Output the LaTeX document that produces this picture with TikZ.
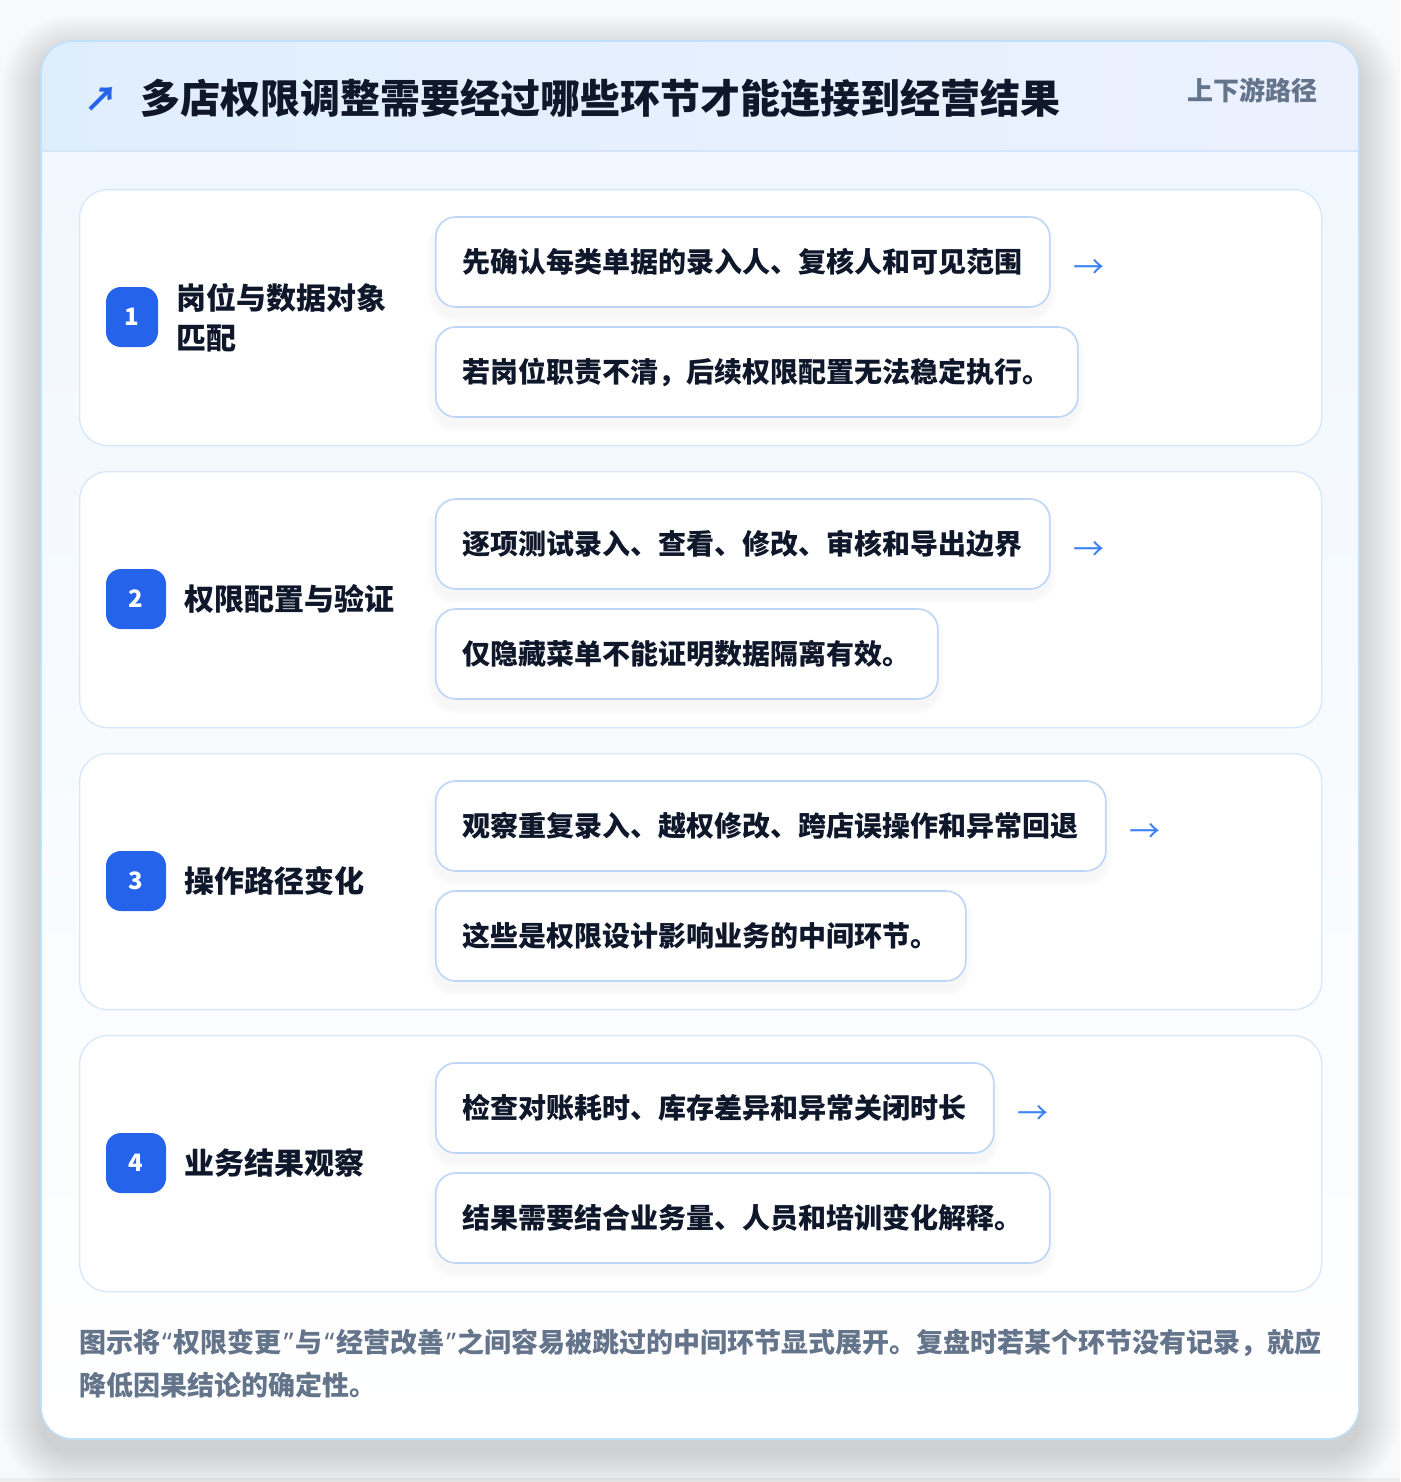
\documentclass[tikz,border=0pt]{standalone}
\usepackage{fontspec}
\setmainfont{Noto Sans CJK SC}
\newfontfamily\latinq{Noto Sans}
\usetikzlibrary{calc}
\definecolor{ink}{HTML}{0F172A}
\definecolor{muted}{HTML}{64748B}
\definecolor{brand}{HTML}{2563EB}
\definecolor{arrowc}{HTML}{3B82F6}
\definecolor{outerb}{HTML}{BFE0FA}
\definecolor{cardb}{HTML}{D6E7FB}
\definecolor{boxb}{HTML}{BCD6F7}
\definecolor{hdrL}{HTML}{DFEEFD}
\definecolor{hdrR}{HTML}{ECF1FE}
\definecolor{hdrline}{HTML}{D5E6FA}
\definecolor{bodyT}{HTML}{F1F7FE}
\definecolor{pagebg}{HTML}{F8F9FA}
\definecolor{shadowc}{HTML}{1E293B}
\newcommand\mysoftshadow[6]{%
  \foreach \k in {1,...,#6}{%
    \fill[shadowc, opacity=0.005, rounded corners=#5+\k] (#1-\k,#2-\k+6) rectangle (#3+\k,#4+\k+8);
  }%
}
\newcommand\myopenq{{\latinq\hspace{2pt}“\hspace{2pt}}}
\newcommand\mycloseq{{\latinq\hspace{2pt}”\hspace{2pt}}}
\begin{document}
\begin{tikzpicture}[x=1pt,y=-1pt,
  card/.style={draw=cardb, line width=1.3pt, fill=white, rounded corners=28pt, anchor=north west,
    minimum width=1242, minimum height=256, inner sep=0},
  subbox/.style={draw=boxb, line width=1.6pt, fill=white, rounded corners=20pt, anchor=west,
    minimum height=90, inner xsep=27pt, inner ysep=0, text=ink, font=\bfseries\fontsize{28}{34}\selectfont},
  badge/.style={fill=brand, rounded corners=15pt, text=white, font=\bfseries\fontsize{24}{26}\selectfont,
    minimum height=60, inner sep=0},
  steptitle/.style={anchor=west, text=ink, font=\bfseries\fontsize{30}{40}\selectfont, inner sep=0, align=left},
  flowarrow/.style={text=arrowc, font=\fontsize{31}{31}\selectfont, inner sep=0},
  foottext/.style={anchor=west, text=muted, font=\bfseries\fontsize{27}{32}\selectfont, inner sep=0},
]
% page
\fill[pagebg] (0,0) rectangle (1400,1482);
\fill[black!7] (0,1478) rectangle (1400,1482);
\useasboundingbox (0,0) rectangle (1400,1482);
% outer card shadow
\foreach \k in {1,...,40}{
  \fill[shadowc, opacity=0.0026, rounded corners=32+\k] (41-\k,41-\k+14) rectangle (1359+\k,1439+\k+14);
}
\fill[white, rounded corners=32] (41,41) rectangle (1359,1439);
\begin{scope}
  \clip[rounded corners=32] (41,41) rectangle (1359,1439);
  \shade[top color=bodyT, bottom color=white] (41,151) rectangle (1359,1439);
  \shade[left color=hdrL, right color=hdrR] (41,41) rectangle (1359,151);
  \draw[hdrline, line width=1.2pt] (41,151) -- (1359,151);
\end{scope}
\draw[outerb, line width=1.6pt, rounded corners=32] (41,41) rectangle (1359,1439);
% header
\node[text=brand, font=\bfseries\fontsize{34}{34}\selectfont, inner sep=0] (ticon) at (101,99) {↗};
\node[anchor=west, text=ink, font=\bfseries\fontsize{40}{48}\selectfont, inner sep=0] (title) at (140,98)
  {多店权限调整需要经过哪些环节才能连接到经营结果};
\node[anchor=east, text=muted, font=\bfseries\fontsize{26}{30}\selectfont, inner sep=0] (tag) at (1318,90) {上下游路径};
% step cards
\node[card] (card1) at (79,189) {};
\node[card] (card2) at (79,471) {};
\node[card] (card3) at (79,753) {};
\node[card] (card4) at (79,1035) {};
% badges
\node[badge, minimum width=52] (badge1) at (132,317) {1};
\node[badge, minimum width=60] (badge2) at (136,599) {2};
\node[badge, minimum width=60] (badge3) at (136,881) {3};
\node[badge, minimum width=60] (badge4) at (136,1163) {4};
% titles
\node[steptitle] (title1) at (176,318) {岗位与数据对象\\匹配};
\node[steptitle] (title2) at (184,599) {权限配置与验证};
\node[steptitle] (title3) at (184,881) {操作路径变化};
\node[steptitle] (title4) at (184,1163) {业务结果观察};
% sub boxes shadows
\mysoftshadow{435}{217}{1049}{307}{20}{8}
\mysoftshadow{435}{327}{1077}{417}{20}{8}
\mysoftshadow{435}{499}{1049}{589}{20}{8}
\mysoftshadow{435}{609}{937}{699}{20}{8}
\mysoftshadow{435}{781}{1105}{871}{20}{8}
\mysoftshadow{435}{891}{965}{981}{20}{8}
\mysoftshadow{435}{1063}{993}{1153}{20}{8}
\mysoftshadow{435}{1173}{1049}{1263}{20}{8}
% sub boxes
\node[subbox] (s11) at (435,262) {先确认每类单据的录入人、复核人和可见范围};
\node[subbox] (s12) at (435,372) {若岗位职责不清，后续权限配置无法稳定执行。};
\node[subbox] (s21) at (435,544) {逐项测试录入、查看、修改、审核和导出边界};
\node[subbox] (s22) at (435,654) {仅隐藏菜单不能证明数据隔离有效。};
\node[subbox] (s31) at (435,826) {观察重复录入、越权修改、跨店误操作和异常回退};
\node[subbox] (s32) at (435,936) {这些是权限设计影响业务的中间环节。};
\node[subbox] (s41) at (435,1108) {检查对账耗时、库存差异和异常关闭时长};
\node[subbox] (s42) at (435,1218) {结果需要结合业务量、人员和培训变化解释。};
% arrows
\node[flowarrow] (a1) at ($(s11.east)+(38,7)$) {→};
\node[flowarrow] (a2) at ($(s21.east)+(38,7)$) {→};
\node[flowarrow] (a3) at ($(s31.east)+(38,7)$) {→};
\node[flowarrow] (a4) at ($(s41.east)+(38,7)$) {→};
% footer
\node[foottext] (foot1) at (79,1343)
  {图示将\myopenq 权限变更\mycloseq 与\myopenq 经营改善\mycloseq 之间容易被跳过的中间环节显式展开。复盘时若某个环节没有记录，就应};
\node[foottext] (foot2) at (79,1385)
  {降低因果结论的确定性。};
\end{tikzpicture}
\end{document}
